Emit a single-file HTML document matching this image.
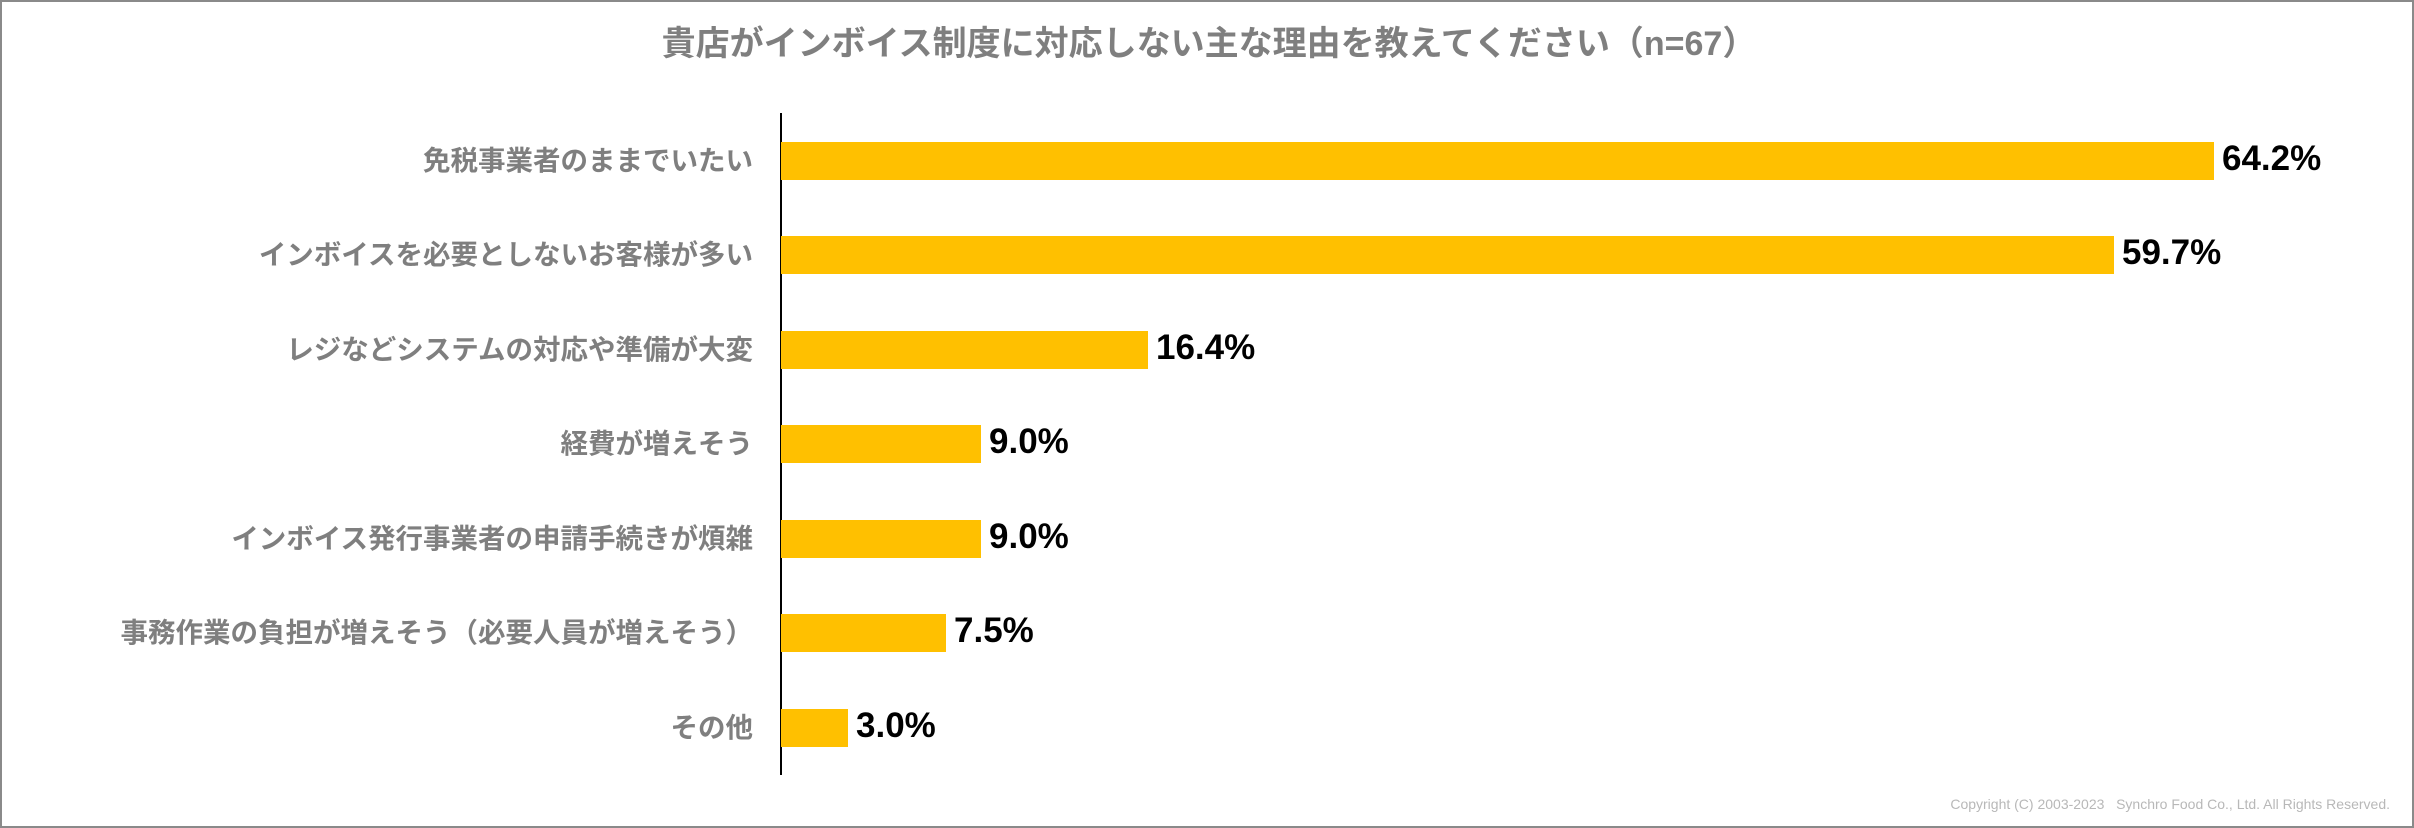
<!DOCTYPE html>
<html><head><meta charset="utf-8"><style>
html,body{margin:0;padding:0;background:#fff;}
#c{position:relative;width:2414px;height:828px;box-sizing:border-box;border:2px solid #8a8a8a;overflow:hidden;font-family:"Liberation Sans","Noto Sans CJK JP",sans-serif;}
.t{position:absolute;left:0;width:2414px;top:20px;text-align:center;font-size:34px;font-weight:bold;color:#7f7f7f;line-height:44px;}
.l{position:absolute;right:1659px;font-size:27.5px;font-weight:bold;color:#7f7f7f;white-space:nowrap;line-height:38px;}
.b{position:absolute;left:779px;height:38px;background:#ffc000;}
.v{position:absolute;font-size:35px;font-weight:bold;color:#000;line-height:38px;}
.ax{position:absolute;left:778px;top:111px;width:2px;height:662px;background:#000;}
.cp{position:absolute;right:22px;top:794px;font-size:14px;color:#b8b8b8;white-space:nowrap;}
</style></head><body><div id="c">
<div class="t">貴店がインボイス制度に対応しない主な理由を教えてください（n=67）</div>
<div class="ax"></div>
<div class="l" style="top:140px">免税事業者のままでいたい</div>
<div class="b" style="top:140px;width:1433px"></div>
<div class="v" style="top:138px;left:2220px">64.2%</div>
<div class="l" style="top:234px">インボイスを必要としないお客様が多い</div>
<div class="b" style="top:234px;width:1333px"></div>
<div class="v" style="top:232px;left:2120px">59.7%</div>
<div class="l" style="top:329px">レジなどシステムの対応や準備が大変</div>
<div class="b" style="top:329px;width:367px"></div>
<div class="v" style="top:327px;left:1154px">16.4%</div>
<div class="l" style="top:423px">経費が増えそう</div>
<div class="b" style="top:423px;width:200px"></div>
<div class="v" style="top:421px;left:987px">9.0%</div>
<div class="l" style="top:518px">インボイス発行事業者の申請手続きが煩雑</div>
<div class="b" style="top:518px;width:200px"></div>
<div class="v" style="top:516px;left:987px">9.0%</div>
<div class="l" style="top:612px">事務作業の負担が増えそう（必要人員が増えそう）</div>
<div class="b" style="top:612px;width:165px"></div>
<div class="v" style="top:610px;left:952px">7.5%</div>
<div class="l" style="top:707px">その他</div>
<div class="b" style="top:707px;width:67px"></div>
<div class="v" style="top:705px;left:854px">3.0%</div>
<div class="cp">Copyright (C) 2003-2023&nbsp;&nbsp; Synchro Food Co., Ltd. All Rights Reserved.</div>
</div></body></html>
